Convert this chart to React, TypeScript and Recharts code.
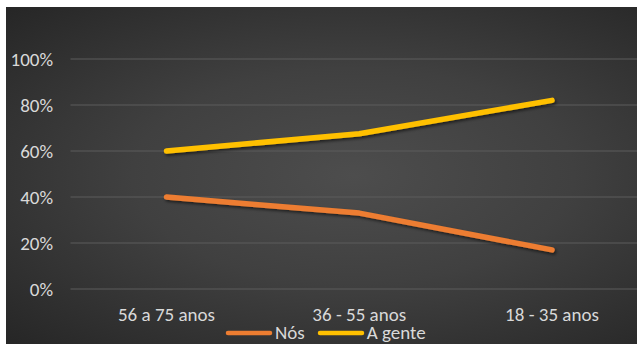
import { LineChart, Line, XAxis, YAxis, CartesianGrid, Legend } from "recharts";

const ageGroups = ["56 a 75 anos", "36 - 55 anos", "18 - 35 anos"];
const nosValues = [40, 33, 17];
const aGenteValues = [60, 67.5, 82];
const yTicks = [0, 20, 40, 60, 80, 100];

const seriesNames = { nos: "Nós", aGente: "A gente" };
const seriesColors = { nos: "#ED7D31", aGente: "#FFC000" };

const data = ageGroups.map((group, i) => ({
  group,
  nos: nosValues[i],
  aGente: aGenteValues[i],
}));

const FONT = "Carlito, Lato, 'Open Sans', sans-serif";
const TEXT = "#d9d9d9";

const renderLegend = () => (
  <div style={{ display: "flex", alignItems: "center", height: 20, fontFamily: FONT, fontSize: 19, color: TEXT }}>
    {(["nos", "aGente"] as const).map((key, i) => (
      <div key={key} style={{ display: "flex", alignItems: "center", marginLeft: i === 0 ? 0 : 12 }}>
        <svg width={48} height={8}>
          <line x1={3} y1={4} x2={45} y2={4} stroke={seriesColors[key]} strokeWidth={4.5} strokeLinecap="round" />
        </svg>
        <span style={{ marginLeft: 2, lineHeight: "20px" }}>{seriesNames[key]}</span>
      </div>
    ))}
  </div>
);

const App = () => {
  return (
    <div style={{ position: "absolute", left: 0, top: 0, width: 637, height: 344, background: "#ffffff" }}>
      <div
        style={{
          position: "absolute",
          left: 6,
          top: 7,
          width: 631,
          height: 337,
          background: "radial-gradient(ellipse at 55% 50%, #4d4d4d 0%, #404040 45%, #262626 100%)",
        }}
      >
        <LineChart width={631} height={337} data={data} margin={{ top: 52, right: 0, bottom: 5, left: 0 }}>
          <defs>
            <filter id="lineShadow" x="-10%" y="-30%" width="120%" height="160%">
              <feDropShadow dx={1.5} dy={2} stdDeviation={1.5} floodColor="#000" floodOpacity={0.55} />
            </filter>
          </defs>
          <CartesianGrid vertical={false} stroke="#5c5c5c" strokeWidth={1} />
          <XAxis
            dataKey="group"
            axisLine={false}
            tickLine={false}
            tickMargin={13}
            padding={{ left: 96, right: 85 }}
            tick={{ fill: TEXT, fontSize: 19, fontFamily: FONT }}
            interval={0}
          />
          <YAxis
            domain={[0, 100]}
            ticks={yTicks}
            width={64.5}
            axisLine={false}
            tickLine={false}
            tickMargin={11.5}
            tickFormatter={(v: number) => `${v}%`}
            tick={{ fill: TEXT, fontSize: 19, fontFamily: FONT }}
          />
          <Legend
            verticalAlign="bottom"
            content={renderLegend}
            wrapperStyle={{ left: 219, top: 316, bottom: "auto", width: "auto" }}
          />
          <Line
            dataKey="nos"
            name={seriesNames.nos}
            type="linear"
            stroke={seriesColors.nos}
            strokeWidth={5.5}
            strokeLinecap="round"
            strokeLinejoin="round"
            filter="url(#lineShadow)"
            dot={false}
            activeDot={false}
            isAnimationActive={false}
          />
          <Line
            dataKey="aGente"
            name={seriesNames.aGente}
            type="linear"
            stroke={seriesColors.aGente}
            strokeWidth={5.5}
            strokeLinecap="round"
            strokeLinejoin="round"
            filter="url(#lineShadow)"
            dot={false}
            activeDot={false}
            isAnimationActive={false}
          />
        </LineChart>
      </div>
    </div>
  );
};

export default App;
